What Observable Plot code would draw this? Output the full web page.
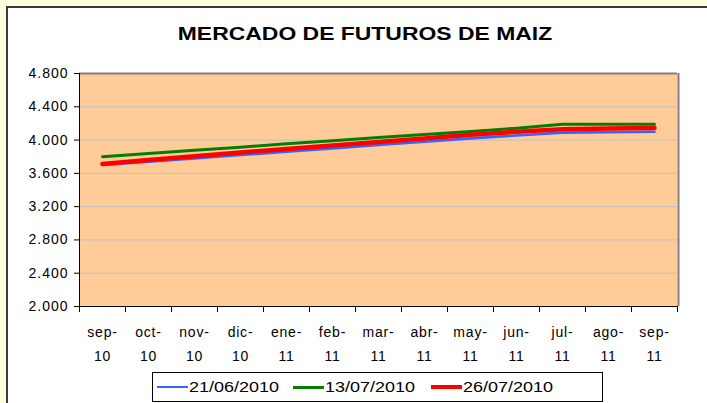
<!DOCTYPE html>
<html>
<head>
<meta charset="utf-8">
<script src="https://cdn.jsdelivr.net/npm/d3@7"></script>
<script src="https://cdn.jsdelivr.net/npm/@observablehq/plot@0.6"></script>
<style>
  html, body { margin: 0; padding: 0; background: #FFFFE0; }
  #wrap { position: relative; width: 707px; height: 403px; overflow: hidden; background: #FFFFE0; font-family: "Liberation Sans", Arial, sans-serif; }
  #inner { position: absolute; left: 6px; top: 6px; width: 710px; height: 410px; background: #fff; border-left: 2px solid #3a3a36; border-top: 2px solid #3a3a36; }
  #title { position: absolute; left: 0; width: 730px; top: 24px; text-align: center; font-weight: bold; font-size: 17.5px; color: #000; transform: scaleX(1.31); transform-origin: 365px 0; white-space: nowrap; }
  #chart { position: absolute; left: 0; top: 0; }
  #legend { position: absolute; left: 152px; top: 372px; width: 451px; height: 30px; border: 1px solid #000; background: #fff; font-size: 15.5px; color: #000; box-sizing: border-box; }
  .item { position: absolute; top: 0; height: 28px; display: flex; align-items: center; }
  .sw { width: 31px; margin-right: 1px; }
  .tx { display: inline-block; transform: scaleX(1.16); transform-origin: 0 50%; }
</style>
</head>
<body>
<div id="wrap">
  <div id="inner"></div>
  <div id="title">MERCADO DE FUTUROS DE MAIZ</div>
  <div id="chart"></div>
  <div id="legend"></div>
</div>
<script>
// Categories (x axis labels)
const months = ["sep-10","oct-10","nov-10","dic-10","ene-11","feb-11","mar-11","abr-11","may-11","jun-11","jul-11","ago-11","sep-11"];
// Series
const series21jun = [3700, 3740, 3780, 3820, 3860, 3900, 3940, 3980, 4020, 4055, 4090, 4095, 4100];
const series13jul = [3800, 3840, 3877, 3915, 3955, 3992, 4030, 4066, 4103, 4142, 4190, 4190, 4190];
const series26jul = [3712, 3760, 3806, 3850, 3893, 3935, 3977, 4020, 4064, 4100, 4130, 4140, 4146];
// Series names
const seriesNames = ["21/06/2010", "13/07/2010", "26/07/2010"];
// Y ticks
const yTicks = [2000, 2400, 2800, 3200, 3600, 4000, 4400, 4800];

const colors = ["#3366FF", "#008000", "#FF0000"];
const widths = [2.6, 3, 4.5];
const allSeries = [series21jun, series13jul, series26jul];

const data = [];
allSeries.forEach((s, k) => s.forEach((v, i) => data.push({i, v, name: seriesNames[k]})));

const fmt = d => d3.format(",")(d).replace(/,/g, ".");

const chart = Plot.plot({
  width: 707,
  height: 372,
  marginLeft: 79,
  marginRight: 30,
  marginTop: 73,
  marginBottom: 66,
  style: { fontFamily: "'Liberation Sans', Arial, sans-serif", fontSize: "13px", background: "transparent", color: "#000", overflow: "visible" },
  x: { domain: [-0.5, 12.5], axis: null },
  y: { domain: [2000, 4800], axis: null },
  marks: [
    Plot.frame({ fill: "#FFCC99", stroke: null }),
    Plot.gridY(yTicks, { stroke: "#C0C0C0", strokeOpacity: 1, strokeWidth: 1 }),
    Plot.ruleY([4800], { stroke: "#808080", strokeWidth: 2 }),
    Plot.ruleX([12.5], { stroke: "#808080", strokeWidth: 2, dx: 1 }),
    ...seriesNames.map((n, k) => Plot.line(data.filter(d => d.name === n), { x: "i", y: "v", stroke: colors[k], strokeWidth: widths[k] })),
    Plot.ruleX([-0.5], { stroke: "#000", strokeWidth: 1 }),
    Plot.ruleY([2000], { stroke: "#000", strokeWidth: 1 }),
    Plot.axisY(yTicks, { tickSize: 5, tickPadding: 6, tickFormat: fmt, fontSize: 14, stroke: "#000", label: null, className: "yax" }),
    Plot.axisX(d3.range(-0.5, 13, 1), { tickSize: 6, tickFormat: () => "", stroke: "#000", label: null }),
    Plot.text(months, { x: (d, i) => i, y: 2000, text: d => d.replace("-", "-\n"), lineAnchor: "top", dy: 13, lineHeight: 1.72, fontSize: 14, fill: "#000", className: "xlab" })
  ]
});
d3.select(chart).selectAll(".yax text").style("letter-spacing", "1px");
d3.select(chart).selectAll(".xlab text").style("letter-spacing", "0.8px");
document.getElementById("chart").appendChild(chart);

const legend = document.getElementById("legend");
const itemLeft = [4, 140, 278];
seriesNames.forEach((n, k) => {
  const it = document.createElement("div");
  it.className = "item";
  it.style.left = itemLeft[k] + "px";
  const sw = document.createElement("div");
  sw.className = "sw";
  sw.style.borderTop = widths[k] + "px solid " + colors[k];
  const tx = document.createElement("span");
  tx.className = "tx";
  tx.textContent = n;
  it.appendChild(sw); it.appendChild(tx);
  legend.appendChild(it);
});
</script>
</body>
</html>
